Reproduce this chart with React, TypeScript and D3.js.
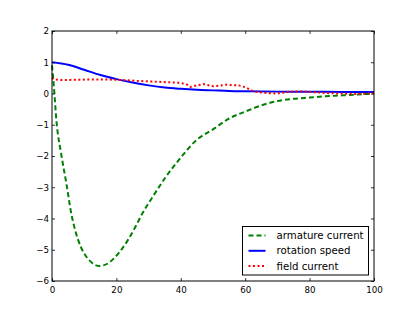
import React, { useEffect, useRef } from "react";
import * as d3 from "d3";

// values
const armatureX = [0, 0.6, 1.4, 2.8, 4.5, 6, 7, 8, 9, 10.5, 12, 13.5, 14.8, 16, 17.5, 19, 21, 23.5, 26, 28, 31, 35, 40, 45, 50, 55, 60, 65, 70, 75, 80, 85, 90, 95, 100];
const armatureY = [0.9, 0.2, -0.9, -1.9, -2.9, -3.85, -4.3, -4.65, -4.92, -5.2, -5.38, -5.49, -5.52, -5.5, -5.43, -5.3, -5.07, -4.7, -4.25, -3.85, -3.35, -2.72, -2.05, -1.48, -1.15, -0.8, -0.58, -0.38, -0.24, -0.17, -0.13, -0.09, -0.06, -0.03, 0.0];

const speedX = [0, 5, 10, 15, 20, 25, 30, 35, 40, 45, 50, 55, 60, 70, 80, 90, 100];
const speedY = [1.0, 0.92, 0.76, 0.59, 0.46, 0.35, 0.26, 0.19, 0.15, 0.12, 0.1, 0.08, 0.07, 0.06, 0.055, 0.05, 0.05];

const fieldX = [0, 0.5, 3, 8, 13, 17, 22, 27, 32, 36, 40, 42, 43, 45, 47, 50, 52, 54, 56, 58, 60, 62, 64, 67, 70, 73, 77, 80, 83, 86, 89, 92, 95, 98, 100];
const fieldY = [0.5, 0.45, 0.43, 0.44, 0.45, 0.45, 0.43, 0.4, 0.38, 0.36, 0.34, 0.28, 0.21, 0.26, 0.3, 0.23, 0.25, 0.28, 0.27, 0.26, 0.2, 0.1, 0.04, 0.01, 0.0, 0.05, 0.07, 0.05, 0.03, 0.01, 0.0, -0.01, -0.02, 0.0, 0.01];

const xTicks = [0, 20, 40, 60, 80, 100];
const yTicks = [-6, -5, -4, -3, -2, -1, 0, 1, 2];

const series = [
  { name: "armature current", xs: armatureX, ys: armatureY, color: "#008000", dash: "5,3", smooth: true },
  { name: "rotation speed", xs: speedX, ys: speedY, color: "#0000ff", dash: null, smooth: true },
  { name: "field current", xs: fieldX, ys: fieldY, color: "#ff0000", dash: "2,2.5", smooth: false },
];

const W = 415, H = 312;
const margin = { top: 31, right: 41, bottom: 31, left: 52 };

export default function App() {
  const ref = useRef<SVGSVGElement>(null);

  useEffect(() => {
    const svg = d3.select(ref.current);
    svg.selectAll("*").remove();
    const w = W - margin.left - margin.right;
    const h = H - margin.top - margin.bottom;

    const x = d3.scaleLinear().domain([0, 100]).range([0, w]);
    const y = d3.scaleLinear().domain([-6, 2]).range([h, 0]);

    const g = svg.append("g").attr("transform", `translate(${margin.left},${margin.top})`);
    const font = "DejaVu Sans, sans-serif";

    // lines
    series.forEach((s) => {
      const pts: [number, number][] = s.xs.map((v, i) => [v, s.ys[i]]);
      const line = d3.line<[number, number]>()
        .x((d) => x(d[0]))
        .y((d) => y(d[1]))
        .curve(s.smooth ? d3.curveMonotoneX : d3.curveLinear);
      g.append("path")
        .attr("d", line(pts))
        .attr("fill", "none")
        .attr("stroke", s.color)
        .attr("stroke-width", 2)
        .attr("stroke-dasharray", s.dash);
    });

    // axes, ticks inside on all four sides
    const fmt = (d: d3.NumberValue) => d3.format("d")(d as number).replace("-", "\u2212");
    const bottom = g.append("g").attr("transform", `translate(0,${h})`)
      .call(d3.axisBottom(x).tickValues(xTicks).tickSize(-3).tickPadding(6).tickFormat(fmt));
    const left = g.append("g")
      .call(d3.axisLeft(y).tickValues(yTicks).tickSize(-3).tickPadding(6).tickFormat(fmt));
    const top = g.append("g")
      .call(d3.axisTop(x).tickValues(xTicks).tickSize(-3).tickFormat(() => ""));
    const right = g.append("g").attr("transform", `translate(${w},0)`)
      .call(d3.axisRight(y).tickValues(yTicks).tickSize(-3).tickFormat(() => ""));
    [bottom, left, top, right].forEach((a) => {
      a.select(".domain").remove();
      a.selectAll("line").attr("stroke", "#000").attr("stroke-width", 0.8);
      a.selectAll("text").attr("font-family", font).attr("font-size", 8.7).attr("fill", "#000");
    });
    left.selectAll("text").attr("x", -3);

    g.append("rect")
      .attr("width", w)
      .attr("height", h)
      .attr("fill", "none")
      .attr("stroke", "#000")
      .attr("stroke-width", 1);

    // legend
    const lg = g.append("g").attr("transform", `translate(${242.5 - margin.left},${226.5 - margin.top})`);
    lg.append("rect")
      .attr("width", 126)
      .attr("height", 48.5)
      .attr("fill", "#fff")
      .attr("stroke", "#000")
      .attr("stroke-width", 1);
    series.forEach((s, i) => {
      const cy = 9 + i * 15.3;
      lg.append("line")
        .attr("x1", 6).attr("x2", 23)
        .attr("y1", cy).attr("y2", cy)
        .attr("stroke", s.color)
        .attr("stroke-width", 2)
        .attr("stroke-dasharray", s.dash);
      lg.append("text")
        .attr("x", 34)
        .attr("y", cy)
        .attr("dy", "0.35em")
        .attr("font-family", font)
        .attr("font-size", 10.2)
        .text(s.name);
    });
  }, []);

  return (
    <svg ref={ref} width={W} height={H} style={{ position: "absolute", left: 0, top: 0, background: "#fff" }} />
  );
}
